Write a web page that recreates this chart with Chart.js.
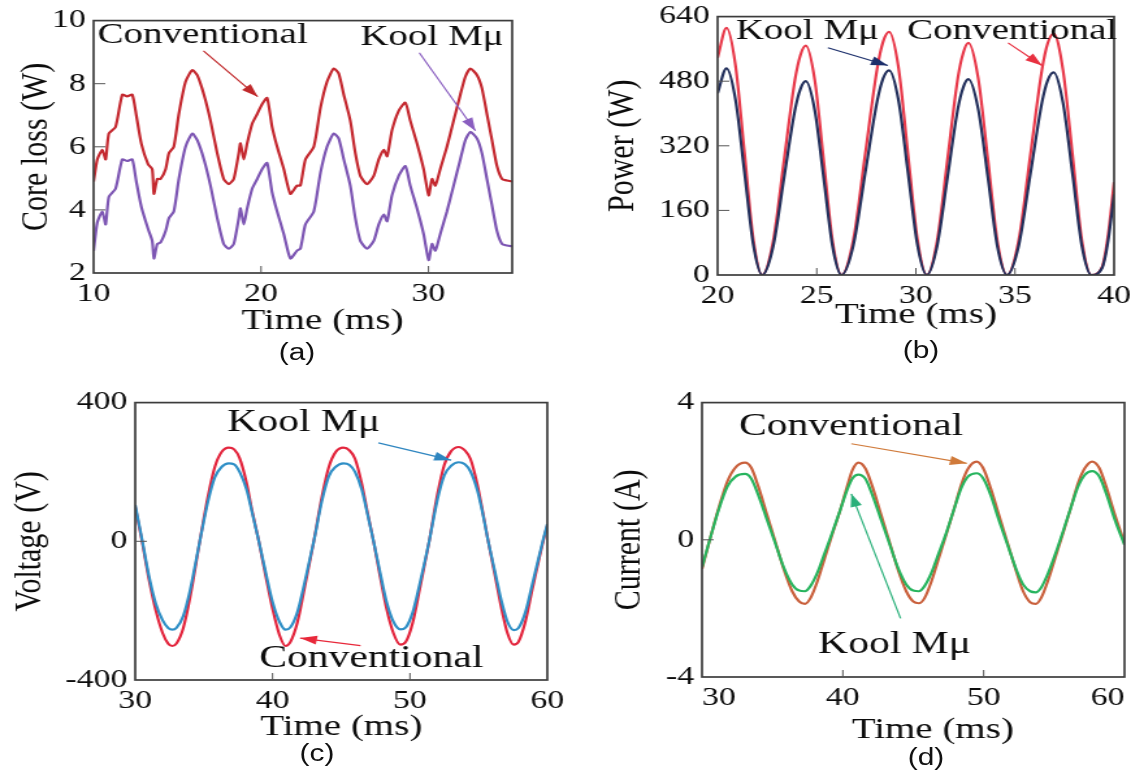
<!DOCTYPE html>
<html>
<head>
<meta charset="utf-8">
<script src="https://cdn.jsdelivr.net/npm/chart.js@4.4.1/dist/chart.umd.min.js"></script>
<style>
  html, body { margin:0; padding:0; background:#ffffff; overflow:hidden; width:1131px; height:783px; }
  #fig { position:absolute; left:0; top:0; width:870px; height:783px; transform:scaleX(1.3); transform-origin:0 0; }
  #fig canvas { position:absolute; }
  .cap { position:absolute; font-family:"Liberation Sans", Arial, sans-serif; font-size:23px; color:#111; transform:translateX(-50%); white-space:nowrap; line-height:26px; }
</style>
</head>
<body>
<div id="fig"></div>
<script>
// ---------------- DATA ----------------
// (a) Core loss vs time
const timeA = [10.0,10.22,10.52,10.72,10.91,11.31,11.71,12.0,12.31,12.55,12.85,13.25,13.5,13.6,13.8,14.0,14.3,14.5,14.79,15.09,15.49,15.89,16.19,16.59,16.98,17.38,17.77,18.07,18.37,18.67,18.77,18.97,19.17,19.47,19.77,20.06,20.36,20.66,20.96,21.36,21.75,22.15,22.35,22.65,23.15,23.55,23.94,24.34,24.64,24.94,25.33,25.63,25.93,26.33,26.73,27.03,27.33,27.53,27.82,28.22,28.62,28.91,29.31,29.71,30.01,30.21,30.41,30.7,31.1,31.5,31.9,32.2,32.5,32.9,33.19,33.49,33.79,34.09,34.39,34.69,35.0];
const convA = [4.9,5.6,5.9,5.6,6.42,6.63,7.65,7.6,7.65,7.0,6.1,5.45,5.29,4.51,4.98,4.98,5.29,5.8,6.0,7.04,8.06,8.43,8.27,7.65,6.83,5.8,4.98,4.82,4.98,5.8,6.11,5.6,6.11,6.73,7.04,7.35,7.55,6.63,6.0,5.29,4.51,4.77,4.77,5.6,6.0,7.24,8.06,8.48,8.32,7.65,6.83,5.8,5.08,4.82,5.08,5.6,5.9,5.7,6.52,7.14,7.4,6.83,6.11,5.29,4.46,4.98,4.77,5.29,6.0,6.83,7.65,8.22,8.48,8.27,7.86,7.04,6.21,5.39,4.98,4.93,4.9];
const koolA = [2.7,3.6,3.95,3.54,4.41,4.67,5.6,5.55,5.6,4.9,4.1,3.4,3.02,2.46,2.92,2.97,3.33,3.74,3.95,4.98,6.0,6.42,6.21,5.6,4.77,3.74,2.92,2.77,2.92,3.74,4.05,3.54,4.05,4.67,4.98,5.29,5.49,4.56,3.95,3.23,2.46,2.71,2.77,3.54,3.95,5.18,6.0,6.42,6.26,5.6,4.77,3.74,3.02,2.77,3.02,3.54,3.85,3.64,4.46,5.08,5.39,4.77,4.05,3.23,2.41,2.92,2.71,3.23,3.95,4.77,5.6,6.21,6.47,6.26,5.8,4.98,4.15,3.33,2.92,2.87,2.85];
const xTicksA = [10,20,30];
const yTicksA = [2,4,6,8,10];

// (b) Power vs time
const timeB = [20.0,20.45,20.9,21.35,21.8,22.25,22.8,23.35,23.9,24.18,24.45,24.9,25.35,25.8,26.25,26.85,27.45,28.05,28.35,28.65,29.13,29.6,30.08,30.55,31.07,31.6,32.12,32.4,32.65,33.14,33.63,34.11,34.6,35.19,35.78,36.36,36.65,36.95,37.42,37.9,38.37,38.85,39.4,39.7,40.0];
const convB = [538,612,520,306,89,0,83,284,483,545,568,483,284,83,0,88,301,512,578,602,512,301,88,0,84,288,489,552,575,489,288,84,0,87,299,508,574,598,508,299,87,0,21,100,230];
const koolB = [450,512,435,256,75,0,70,240,408,461,480,408,240,70,0,74,254,431,487,507,431,254,74,0,71,243,412,466,485,412,243,71,0,73,251,427,482,502,427,251,73,0,18,85,200];
const xTicksB = [20,25,30,35,40];
const yTicksB = [0,160,320,480,640];

// (c) Voltage vs time
const timeC = [30.0,30.5,31.0,31.5,32.0,32.4,32.7,33.0,33.5,34.0,34.7,35.3,35.8,36.3,36.8,37.2,37.6,38.1,38.5,39.0,39.5,40.0,40.5,40.95,41.3,41.8,42.3,43.0,43.6,44.1,44.6,45.15,45.6,46.0,46.5,46.9,47.35,47.8,48.3,48.8,49.3,49.7,50.2,50.7,51.4,52.0,52.5,53.0,53.55,54.0,54.4,54.9,55.3,55.7,56.2,56.7,57.1,57.55,57.9,58.4,58.9,59.7,60.0];
const convC = [100,0,-110,-200,-265,-295,-302,-295,-250,-160,0,130,215,258,270,265,240,170,90,0,-100,-195,-270,-302,-290,-235,-140,0,130,215,258,270,262,238,165,85,0,-95,-195,-265,-298,-290,-235,-140,0,135,220,260,272,262,238,165,85,0,-100,-200,-265,-298,-290,-232,-140,0,45];
const koolC = [105,5,-100,-180,-228,-250,-255,-250,-215,-140,0,115,185,215,225,222,200,150,85,0,-90,-175,-232,-255,-248,-205,-125,0,118,188,215,225,220,200,148,80,0,-85,-175,-232,-254,-248,-205,-125,0,120,190,218,228,222,202,148,80,0,-90,-178,-232,-256,-250,-205,-125,5,50];
const xTicksC = [30,40,50,60];
const yTicksC = [-400,0,400];

// (d) Current vs time
const timeD = [30.0,30.55,31.2,31.8,32.4,33.05,33.5,34.0,34.6,35.2,35.8,36.4,36.9,37.3,37.7,38.2,38.7,39.2,39.8,40.3,40.7,41.1,41.6,42.1,42.7,43.3,43.9,44.5,45.0,45.4,45.8,46.3,46.8,47.3,47.9,48.4,48.9,49.5,49.95,50.5,51.1,51.7,52.3,52.8,53.3,53.7,54.1,54.6,55.1,55.6,56.2,56.7,57.2,57.7,58.2,58.7,59.3,60.0];
const convD = [-0.85,0,0.95,1.7,2.12,2.25,2.1,1.55,0.75,-0.05,-0.85,-1.5,-1.8,-1.87,-1.7,-1.2,-0.55,0.1,0.85,1.55,2.05,2.25,2.08,1.55,0.75,-0.05,-0.85,-1.5,-1.8,-1.85,-1.7,-1.2,-0.55,0.1,0.9,1.6,2.08,2.28,2.1,1.5,0.7,-0.1,-0.9,-1.5,-1.82,-1.87,-1.68,-1.15,-0.5,0.15,0.95,1.65,2.1,2.28,2.1,1.55,0.75,-0.1];
const koolD = [-0.8,0,0.9,1.55,1.85,1.92,1.78,1.3,0.6,-0.1,-0.8,-1.3,-1.48,-1.5,-1.35,-0.95,-0.4,0.15,0.85,1.45,1.8,1.9,1.78,1.3,0.6,-0.1,-0.8,-1.3,-1.48,-1.5,-1.35,-0.95,-0.4,0.15,0.9,1.5,1.85,1.94,1.8,1.3,0.55,-0.15,-0.85,-1.3,-1.5,-1.53,-1.38,-0.95,-0.4,0.2,0.95,1.55,1.9,2.0,1.85,1.35,0.6,-0.15];
const xTicksD = [30,40,50,60];
const yTicksD = [-4,0,4];

const seriesNames = ['Conventional', 'Kool M\u03bc'];
const xTitle = 'Time (ms)';
const yTitles = ['Core loss (W)', 'Power (W)', 'Voltage (V)', 'Current (A)'];
const captions = ['(a)', '(b)', '(c)', '(d)'];

// ---------------- LAYOUT / STYLE ----------------
const S = 1.3;             // horizontal stretch of the whole figure
const SERIF = '"Liberation Serif", "Times New Roman", serif';
const TXT = '#0c0c0c';

function pts(t, v) { return t.map((x, i) => ({ x: x, y: v[i] })); }

const framePlugin = {
  id: 'frame',
  afterDraw(chart, args, opts) {
    const { ctx, chartArea: a } = chart;
    const xs = chart.scales.x, ys = chart.scales.y;
    ctx.save();
    ctx.strokeStyle = '#3c3c3c';
    ctx.lineWidth = 1.7;
    ctx.strokeRect(a.left, a.top, a.right - a.left, a.bottom - a.top);
    ctx.lineWidth = 1;
    ctx.strokeStyle = '#555';
    xs.ticks.forEach(t => {
      const p = xs.getPixelForValue(t.value);
      if (p > a.left + 3 && p < a.right - 3) { ctx.beginPath(); ctx.moveTo(p, a.bottom); ctx.lineTo(p, a.bottom - 7); ctx.stroke(); }
    });
    ys.ticks.forEach(t => {
      const p = ys.getPixelForValue(t.value);
      if (p > a.top + 3 && p < a.bottom - 3) { ctx.beginPath(); ctx.moveTo(a.left, p); ctx.lineTo(a.left + 9, p); ctx.stroke(); }
    });
    // annotations
    (opts.notes || []).forEach(n => {
      ctx.font = (opts.noteSize || 30) + 'px ' + SERIF;
      ctx.fillStyle = TXT;
      ctx.textAlign = 'left';
      ctx.textBaseline = 'alphabetic';
      ctx.fillText(n.text, xs.getPixelForValue(n.tx), ys.getPixelForValue(n.ty));
      const x1 = xs.getPixelForValue(n.ar[0]), y1 = ys.getPixelForValue(n.ar[1]);
      const x2 = xs.getPixelForValue(n.ar[2]), y2 = ys.getPixelForValue(n.ar[3]);
      ctx.strokeStyle = n.color; ctx.fillStyle = n.color; ctx.lineWidth = 1.2;
      ctx.beginPath(); ctx.moveTo(x1, y1); ctx.lineTo(x2, y2); ctx.stroke();
      const ang = Math.atan2(y2 - y1, x2 - x1), L = 13, W = 4.5;
      const bx = x2 - L * Math.cos(ang), by = y2 - L * Math.sin(ang);
      ctx.beginPath();
      ctx.moveTo(x2, y2);
      ctx.lineTo(bx + W * Math.sin(ang), by - W * Math.cos(ang));
      ctx.lineTo(bx - W * Math.sin(ang), by + W * Math.cos(ang));
      ctx.closePath(); ctx.fill();
    });
    ctx.restore();
  }
};

const panels = [
  { plot: { L: 93, R: 512, T: 14, B: 273 }, yW: 70, ytp: 8, xtp: 19, xpre: '\u2002\u2002', align: 'center', noteSize: 30,
    x: [10, 35], y: [2, 10], xt: xTicksA, yt: yTicksA, tension: 0.2,
    sets: [ { d: pts(timeA, koolA), c: '#7d56b3', n: seriesNames[1] }, { d: pts(timeA, convA), c: '#c4282f', n: seriesNames[0] } ],
    notes: [ { text: seriesNames[0], tx: 10.24, ty: 9.29, ar: [16.56, 9.04, 19.8, 7.59], color: '#c0282a' },
             { text: seriesNames[1], tx: 25.93, ty: 9.23, ar: [29.45, 8.98, 32.8, 6.51], color: '#8a5ec0' } ],
    cap: { x: 297, y: 352 } },
  { plot: { L: 717, R: 1113, T: 10, B: 275 }, yW: 100, ytp: 9, xtp: 27, xpre: '', align: 'center', noteSize: 30,
    x: [20, 40], y: [0, 640], xt: xTicksB, yt: yTicksB, tension: 'mono',
    sets: [ { d: pts(timeB, koolB), c: '#23305c', n: seriesNames[1] }, { d: pts(timeB, convB), c: '#e8394a', n: seriesNames[0] } ],
    notes: [ { text: seriesNames[1], tx: 20.91, ty: 585, ar: [25.56, 563, 28.59, 519], color: '#1c2f6b' },
             { text: seriesNames[0], tx: 29.55, ty: 585, ar: [34.65, 575, 36.36, 519], color: '#e83040' } ],
    cap: { x: 921, y: 350 } },
  { plot: { L: 135, R: 547, T: 396, B: 680 }, yW: 100, ytp: 1, xtp: 20, xpre: '', align: 'center', noteSize: 32,
    x: [30, 60], y: [-400, 400], xt: xTicksC, yt: yTicksC, tension: 'mono',
    sets: [ { d: pts(timeC, koolC), c: '#2f8fc6', n: seriesNames[1] }, { d: pts(timeC, convC), c: '#e3253d', n: seriesNames[0] } ],
    notes: [ { text: seriesNames[1], tx: 36.7, ty: 318, ar: [47.7, 284, 53.0, 234], color: '#2f86c0' },
             { text: seriesNames[0], tx: 39.03, ty: -363, ar: [46.4, -301, 42.0, -279], color: '#e8283a' } ],
    cap: { x: 317, y: 753 } },
  { plot: { L: 702, R: 1124, T: 396, B: 677 }, yW: 100, ytp: 26, xtp: 14, xpre: '\u2002\u2002', align: 'inner', noteSize: 32,
    x: [30, 60], y: [-4, 4], xt: xTicksD, yt: yTicksD, tension: 'mono',
    sets: [ { d: pts(timeD, koolD), c: '#27b45e', n: seriesNames[1] }, { d: pts(timeD, convD), c: '#c9603c', n: seriesNames[0] } ],
    notes: [ { text: seriesNames[0], tx: 32.63, ty: 3.06, ar: [40.6, 2.8, 48.8, 2.23], color: '#d07a3a' },
             { text: seriesNames[1], tx: 38.24, ty: -3.29, ar: [44.1, -2.29, 40.6, 1.34], color: '#2ab07a' } ],
    cap: { x: 926, y: 757 } }
];

const fig = document.getElementById('fig');
const PADT = 15, PADR = 25, XH = 85;

panels.forEach((p, i) => {
  const l = p.plot.L / S, r = p.plot.R / S;
  const cw = Math.round(p.yW + (r - l) + PADR);
  const ch = Math.round(PADT + (p.plot.B - p.plot.T) + XH);
  const cv = document.createElement('canvas');
  cv.width = cw; cv.height = ch;
  cv.style.left = (l - p.yW) + 'px';
  cv.style.top = (p.plot.T - PADT) + 'px';
  cv.style.width = cw + 'px'; cv.style.height = ch + 'px';
  fig.appendChild(cv);

  const cap = document.createElement('div');
  cap.className = 'cap';
  cap.textContent = captions[i];
  cap.style.left = (p.cap.x / S) + 'px';
  cap.style.top = (p.cap.y - 13) + 'px';
  fig.appendChild(cap);

  const mono = p.tension === 'mono';
  const datasets = p.sets.map(s => ({
    label: s.n, data: s.d, borderColor: s.c, backgroundColor: s.c,
    borderWidth: 2.2, pointRadius: 0, fill: false,
    tension: mono ? 0.4 : p.tension,
    cubicInterpolationMode: mono ? 'monotone' : 'default'
  }));

  const tickFont = { family: SERIF, size: 26 };
  const titleFont = { family: SERIF, size: 30, lineHeight: 1.2 };

  new Chart(cv, {
    type: 'line',
    data: { datasets },
    plugins: [framePlugin],
    options: {
      responsive: false, animation: false, devicePixelRatio: 1,
      layout: { padding: { left: 0, right: PADR, top: PADT, bottom: 0 } },
      plugins: { legend: { display: false }, tooltip: { enabled: false }, frame: { notes: p.notes, noteSize: p.noteSize } },
      scales: {
        x: {
          type: 'linear', min: p.x[0], max: p.x[1],
          afterBuildTicks: s => { s.ticks = p.xt.map(v => ({ value: v })); },
          afterFit: s => { s.height = XH; },
          grid: { display: false, drawTicks: false }, border: { display: false },
          ticks: { font: tickFont, color: TXT, padding: 6, maxRotation: 0, autoSkip: false, align: p.align },
          title: { display: true, text: p.xpre + xTitle, font: titleFont, color: TXT, padding: { top: 0, bottom: p.xtp } }
        },
        y: {
          type: 'linear', min: p.y[0], max: p.y[1],
          afterBuildTicks: s => { s.ticks = p.yt.map(v => ({ value: v })); },
          afterFit: s => { s.width = p.yW; },
          grid: { display: false, drawTicks: false }, border: { display: false },
          ticks: { font: tickFont, color: TXT, padding: 6, autoSkip: false },
          title: { display: true, text: yTitles[i], font: titleFont, color: TXT, padding: { top: p.ytp, bottom: 0 } }
        }
      }
    }
  });
});
</script>
</body>
</html>
